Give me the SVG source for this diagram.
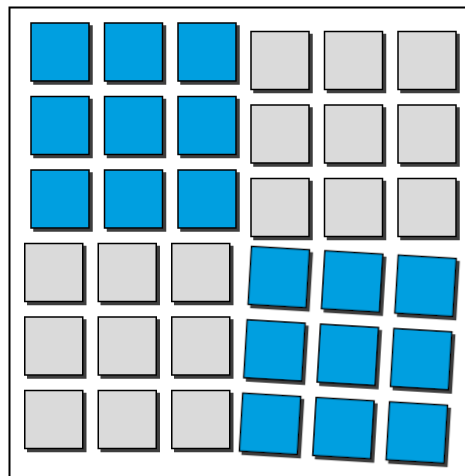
<svg xmlns="http://www.w3.org/2000/svg" width="465" height="476" viewBox="0 0 465 476">
<defs>
<filter id="sh" x="-20%" y="-20%" width="140%" height="140%">
<feDropShadow dx="3" dy="3" stdDeviation="0.7" flood-color="#2a2a2a" flood-opacity="0.9"/>
</filter>
<style>
.b{fill:#009fe0;stroke:#000;stroke-width:1.5;filter:url(#sh)}
.g{fill:#dadada;stroke:#000;stroke-width:1.5;filter:url(#sh)}
</style>
</defs>
<rect x="9.5" y="7.5" width="470" height="480" fill="#fff" stroke="#000" stroke-width="2"/>
<g id="blue-top-left">
<rect class="b" x="31" y="23" width="58" height="58"/>
<rect class="b" x="104.5" y="23" width="58" height="58"/>
<rect class="b" x="178" y="23" width="58" height="58"/>
<rect class="b" x="31" y="96.5" width="58" height="58"/>
<rect class="b" x="104.5" y="96.5" width="58" height="58"/>
<rect class="b" x="178" y="96.5" width="58" height="58"/>
<rect class="b" x="31" y="170" width="58" height="58"/>
<rect class="b" x="104.5" y="170" width="58" height="58"/>
<rect class="b" x="178" y="170" width="58" height="58"/>
</g>
<g id="gray-top-right">
<rect class="g" x="251" y="31.5" width="58" height="58"/>
<rect class="g" x="324.5" y="31.5" width="58" height="58"/>
<rect class="g" x="398" y="31.5" width="58" height="58"/>
<rect class="g" x="251" y="105" width="58" height="58"/>
<rect class="g" x="324.5" y="105" width="58" height="58"/>
<rect class="g" x="398" y="105" width="58" height="58"/>
<rect class="g" x="251" y="178.5" width="58" height="58"/>
<rect class="g" x="324.5" y="178.5" width="58" height="58"/>
<rect class="g" x="398" y="178.5" width="58" height="58"/>
</g>
<g id="gray-bottom-left">
<rect class="g" x="24.75" y="243.5" width="58" height="58"/>
<rect class="g" x="98.25" y="243.5" width="58" height="58"/>
<rect class="g" x="171.75" y="243.5" width="58" height="58"/>
<rect class="g" x="24.75" y="317" width="58" height="58"/>
<rect class="g" x="98.25" y="317" width="58" height="58"/>
<rect class="g" x="171.75" y="317" width="58" height="58"/>
<rect class="g" x="24.75" y="390.5" width="58" height="58"/>
<rect class="g" x="98.25" y="390.5" width="58" height="58"/>
<rect class="g" x="171.75" y="390.5" width="58" height="58"/>
</g>
<g id="blue-bottom-right" transform="translate(347.8 354.8) rotate(3.4)">
<rect class="b" x="-102.5" y="-102.5" width="58" height="58"/>
<rect class="b" x="-29" y="-102.5" width="58" height="58"/>
<rect class="b" x="44.5" y="-102.5" width="58" height="58"/>
<rect class="b" x="-102.5" y="-29" width="58" height="58"/>
<rect class="b" x="-29" y="-29" width="58" height="58"/>
<rect class="b" x="44.5" y="-29" width="58" height="58"/>
<rect class="b" x="-102.5" y="44.5" width="58" height="58"/>
<rect class="b" x="-29" y="44.5" width="58" height="58"/>
<rect class="b" x="44.5" y="44.5" width="58" height="58"/>
</g>
</svg>
